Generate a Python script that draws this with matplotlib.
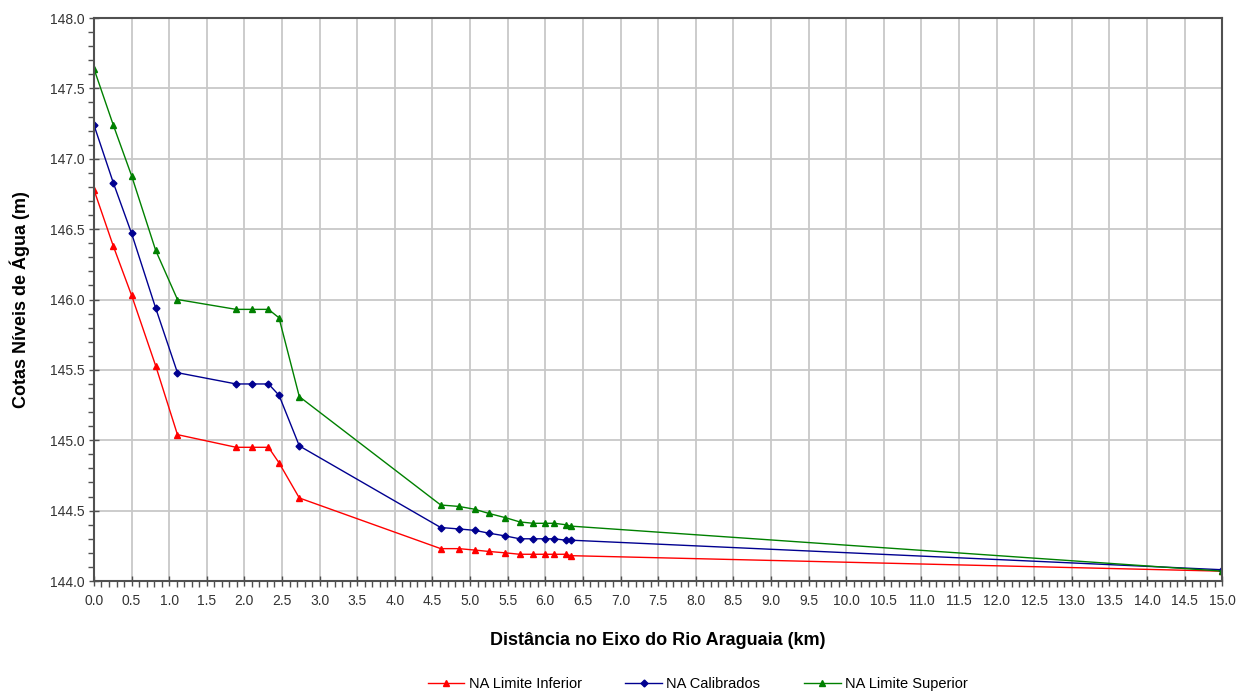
import matplotlib.pyplot as plt
from matplotlib.ticker import MultipleLocator, FormatStrFormatter

plt.rcParams['font.family'] = ['Liberation Sans', 'DejaVu Sans']

dist_km = [0.0, 0.257, 0.50, 0.82, 1.11, 1.89, 2.10, 2.32, 2.46, 2.73,
           4.61, 4.85, 5.06, 5.25, 5.47, 5.66, 5.84, 6.00, 6.12, 6.27, 6.34, 15.0]

na_inferior = [146.78, 146.38, 146.03, 145.53, 145.04, 144.95, 144.95, 144.95, 144.84, 144.59,
               144.23, 144.23, 144.22, 144.21, 144.20, 144.19, 144.19, 144.19, 144.19, 144.19, 144.18, 144.07]
na_calibrados = [147.24, 146.83, 146.47, 145.94, 145.48, 145.40, 145.40, 145.40, 145.32, 144.96,
                 144.38, 144.37, 144.36, 144.34, 144.32, 144.30, 144.30, 144.30, 144.30, 144.29, 144.29, 144.08]
na_superior = [147.64, 147.24, 146.88, 146.35, 146.00, 145.93, 145.93, 145.93, 145.87, 145.31,
               144.54, 144.53, 144.51, 144.48, 144.45, 144.42, 144.41, 144.41, 144.41, 144.40, 144.39, 144.07]


def main():
    fig = plt.figure(figsize=(12.46, 6.93), dpi=100)
    ax = fig.add_axes([0.0754, 0.1616, 0.9056, 0.8124])

    ax.plot(dist_km, na_inferior, color='#ff0000', lw=1, marker='^', ms=5,
            label='NA Limite Inferior')
    ax.plot(dist_km, na_calibrados, color='#000090', lw=1, marker='D', ms=3.5,
            label='NA Calibrados')
    ax.plot(dist_km, na_superior, color='#008000', lw=1, marker='^', ms=5,
            label='NA Limite Superior')

    ax.set_xlim(0, 15)
    ax.set_ylim(144, 148)
    ax.xaxis.set_major_locator(MultipleLocator(0.5))
    ax.xaxis.set_minor_locator(MultipleLocator(0.1))
    ax.yaxis.set_major_locator(MultipleLocator(0.5))
    ax.yaxis.set_minor_locator(MultipleLocator(0.1))
    ax.xaxis.set_major_formatter(FormatStrFormatter('%.1f'))
    ax.yaxis.set_major_formatter(FormatStrFormatter('%.1f'))

    ax.grid(True, which='major', color='#c8c8c8', lw=1.3)
    ax.set_axisbelow(True)
    for s in ax.spines.values():
        s.set_color('#505050')
        s.set_linewidth(1.5)

    ax.tick_params(which='major', direction='inout', length=7, width=1, colors='#505050',
                   labelcolor='#333333', labelsize=10)
    ax.tick_params(which='minor', direction='out', length=4, width=1, colors='#505050')
    ax.tick_params(axis='x', pad=6)

    ax.set_xlabel('Distância no Eixo do Rio Araguaia (km)', fontsize=13, fontweight='bold',
                  labelpad=17)
    ax.set_ylabel('Cotas Níveis de Água (m)', fontsize=13, fontweight='bold', labelpad=14)

    fig.legend(loc='lower center', bbox_to_anchor=(0.56, -0.016), ncol=3, frameon=False,
               fontsize=10.5, handlelength=2.5, columnspacing=3, handletextpad=0.3)

    fig.savefig('out.png', dpi=100)


if __name__ == '__main__':
    main()
